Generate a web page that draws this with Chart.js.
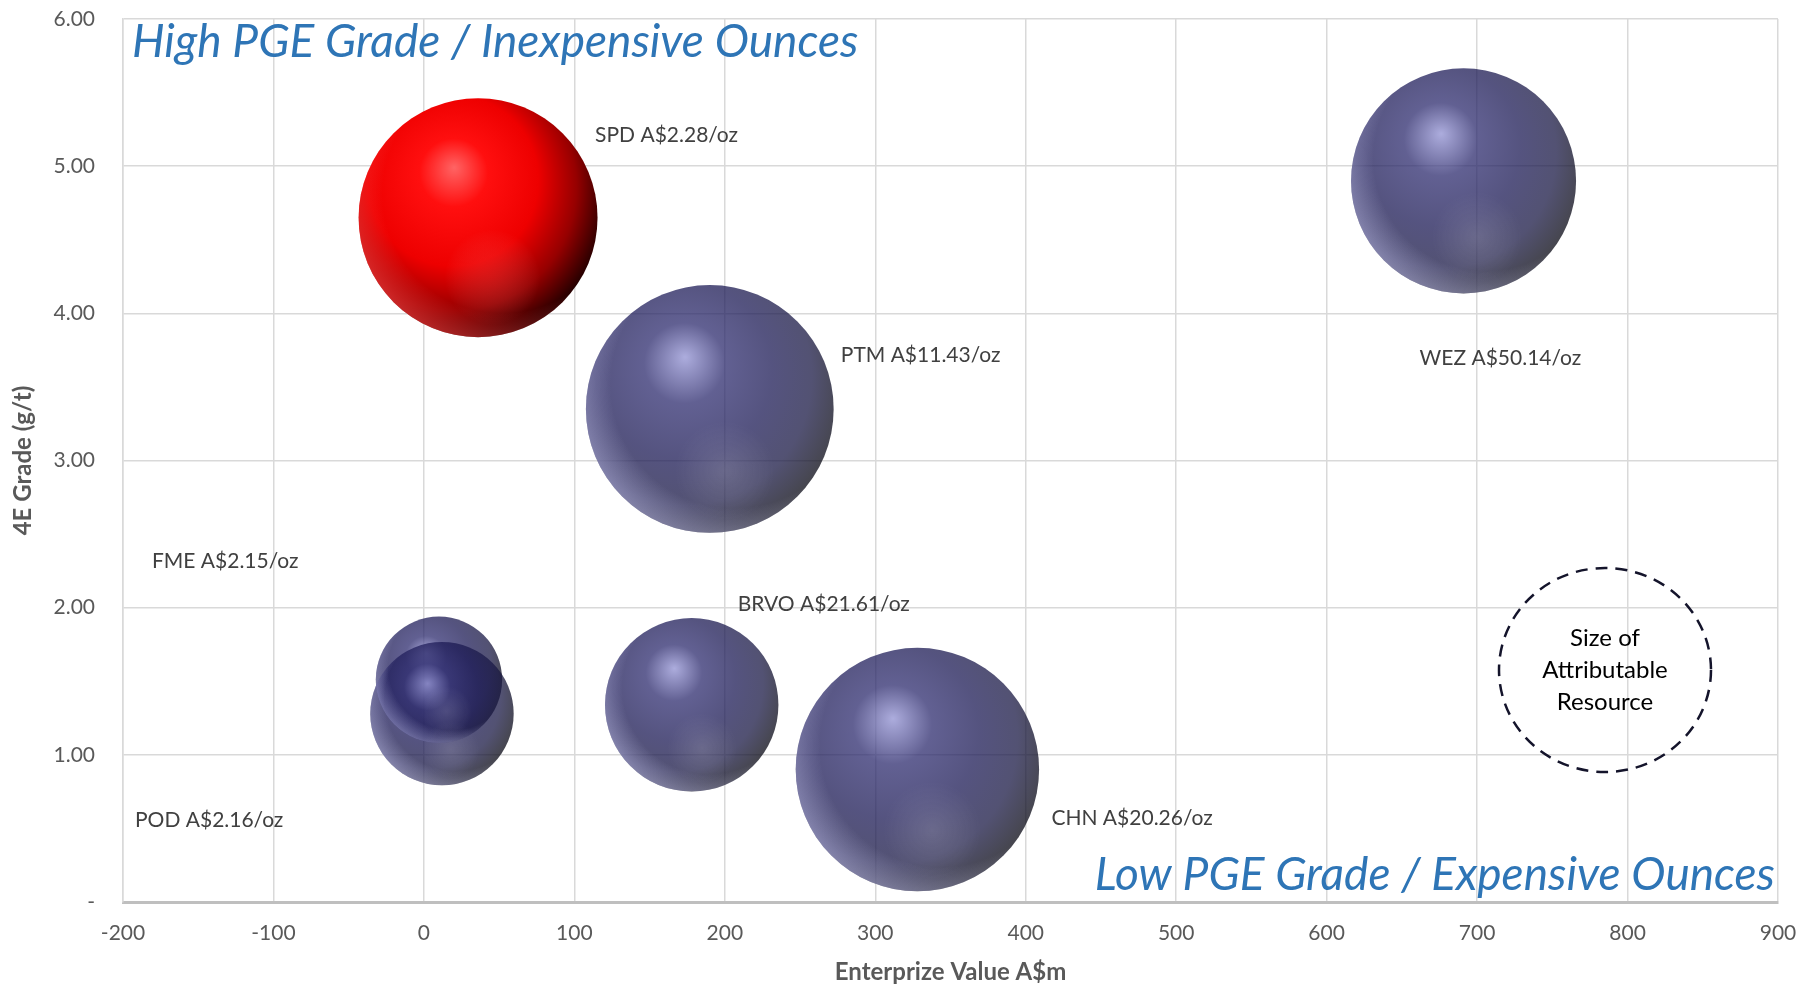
<!DOCTYPE html>
<html>
<head>
<meta charset="utf-8">
<script src="https://cdn.jsdelivr.net/npm/chart.js@4.4.1/dist/chart.umd.min.js"></script>
<style>
  html, body { margin: 0; padding: 0; background: #fff; }
</style>
</head>
<body>
<canvas id="myChart" width="1800" height="985"></canvas>
<script>
// company data
const companies = ['SPD', 'PTM', 'WEZ', 'FME', 'BRVO', 'POD', 'CHN'];
const costPerOz = [2.28, 11.43, 50.14, 2.15, 21.61, 2.16, 20.26];
const enterpriseValue = [36, 190, 691, 10, 178, 12, 328];   // A$m
const grade = [4.65, 3.35, 4.90, 1.51, 1.34, 1.28, 0.90];  // 4E g/t
const resource = [18.6, 20.0, 16.5, 5.2, 9.8, 6.7, 19.3];  // attributable resource (Moz, estimated)
const highlight = 'SPD';

const FONT = 'Lato, "Open Sans", sans-serif';

// label offsets from bubble centre (px)
const labelOffsets = {
  SPD: [117, -82], PTM: [131, -54], WEZ: [-44, 177], FME: [-287, -119],
  BRVO: [46, -101], POD: [-307, 107], CHN: [134, 49]
};

const points = companies.map((c, i) => ({
  x: enterpriseValue[i],
  y: grade[i],
  r: 27.7 * Math.sqrt(resource[i])
}));

function sphereFill(context) {
  const chart = context.chart;
  const raw = context.raw;
  const isRed = companies[context.dataIndex] === highlight;
  const flat = isRed ? 'rgb(230,0,0)' : 'rgba(28,26,85,0.75)';
  if (!raw || !chart.scales || !chart.scales.x || !chart.scales.y) return flat;
  const cx = chart.scales.x.getPixelForValue(raw.x);
  const cy = chart.scales.y.getPixelForValue(raw.y);
  const r = raw.r;
  if (!isFinite(cx) || !isFinite(cy) || !isFinite(r)) return flat;
  const g = chart.ctx.createRadialGradient(cx - 0.2 * r, cy - 0.42 * r, 0, cx - 0.22 * r, cy - 0.22 * r, 1.3 * r);
  if (isRed) {
    g.addColorStop(0, 'rgb(255,100,100)');
    g.addColorStop(0.22, 'rgb(255,15,15)');
    g.addColorStop(0.55, 'rgb(238,0,0)');
    g.addColorStop(0.8, 'rgb(150,0,0)');
    g.addColorStop(1, 'rgb(40,0,0)');
  } else {
    g.addColorStop(0, 'rgba(145,145,210,0.75)');
    g.addColorStop(0.25, 'rgba(45,43,110,0.75)');
    g.addColorStop(0.55, 'rgba(28,26,85,0.75)');
    g.addColorStop(0.8, 'rgba(25,24,68,0.75)');
    g.addColorStop(1, 'rgba(8,8,20,0.75)');
  }
  return g;
}

const overlayPlugin = {
  id: 'overlay',
  afterDatasetsDraw(chart) {
    const ctx = chart.ctx;
    const area = chart.chartArea;
    const meta = chart.getDatasetMeta(0);
    ctx.save();
    // sphere rim light and soft reflection
    meta.data.forEach((el, i) => {
      const r = el.options.radius;
      const isRed = companies[i] === highlight;
      ctx.save();
      ctx.beginPath();
      ctx.arc(el.x, el.y, r, 0, Math.PI * 2);
      ctx.clip();
      const rim = ctx.createRadialGradient(el.x + 0.2 * r, el.y - 0.2 * r, r, el.x + 0.2 * r, el.y - 0.2 * r, 1.28 * r);
      rim.addColorStop(0, isRed ? 'rgba(255,70,70,0)' : 'rgba(190,190,240,0)');
      rim.addColorStop(1, isRed ? 'rgba(255,70,70,0.55)' : 'rgba(190,190,240,0.45)');
      ctx.fillStyle = rim;
      ctx.fillRect(el.x - r, el.y - r, 2 * r, 2 * r);
      const refl = ctx.createRadialGradient(el.x + 0.12 * r, el.y + 0.5 * r, 0, el.x + 0.12 * r, el.y + 0.5 * r, 0.4 * r);
      refl.addColorStop(0, isRed ? 'rgba(255,120,120,0.18)' : 'rgba(255,255,255,0.13)');
      refl.addColorStop(1, 'rgba(255,255,255,0)');
      ctx.fillStyle = refl;
      ctx.fillRect(el.x - r, el.y - r, 2 * r, 2 * r);
      ctx.restore();
    });
    // data labels
    ctx.font = '21px ' + FONT;
    ctx.fillStyle = '#404040';
    ctx.textAlign = 'left';
    ctx.textBaseline = 'middle';
    meta.data.forEach((el, i) => {
      const off = labelOffsets[companies[i]];
      ctx.fillText(companies[i] + ' A$' + costPerOz[i].toFixed(2) + '/oz', el.x + off[0], el.y + off[1]);
    });
    // quadrant captions
    ctx.font = 'italic 46px ' + FONT;
    ctx.fillStyle = '#2E75B6';
    ctx.textAlign = 'left';
    ctx.fillText('High PGE Grade / Inexpensive Ounces', area.left + 9, area.top + 23);
    ctx.textAlign = 'right';
    ctx.fillText('Low PGE Grade / Expensive Ounces', area.right - 3, area.bottom - 27);
    // size legend
    const lx = area.right - 173, ly = area.bottom - 232;
    ctx.beginPath();
    ctx.ellipse(lx, ly, 106, 102, 0, 0, Math.PI * 2);
    ctx.setLineDash([12, 8]);
    ctx.lineWidth = 2.5;
    ctx.strokeStyle = '#14142b';
    ctx.stroke();
    ctx.setLineDash([]);
    ctx.font = '24px ' + FONT;
    ctx.fillStyle = '#000';
    ctx.textAlign = 'center';
    ['Size of', 'Attributable', 'Resource'].forEach((t, k) => {
      ctx.fillText(t, lx, ly - 32 + k * 32);
    });
    ctx.restore();
  }
};

new Chart(document.getElementById('myChart'), {
  type: 'bubble',
  data: {
    datasets: [{
      label: 'Attributable Resource',
      data: points,
      backgroundColor: sphereFill,
      borderWidth: 0,
      hoverBorderWidth: 0
    }]
  },
  options: {
    responsive: false,
    animation: false,
    layout: { autoPadding: false, padding: { left: 0, right: 22, top: 19, bottom: 0 } },
    plugins: {
      legend: { display: false },
      tooltip: { enabled: false }
    },
    scales: {
      x: {
        type: 'linear',
        min: -200,
        max: 900,
        ticks: {
          stepSize: 100,
          padding: 19,
          color: '#595959',
          font: { family: FONT, size: 21 }
        },
        grid: { color: '#d9d9d9', lineWidth: 1.5, drawTicks: false },
        border: { color: '#bfbfbf', width: 3 },
        title: {
          display: true,
          text: 'Enterprize Value A$m',
          color: '#595959',
          font: { family: FONT, size: 24, weight: 'bold', lineHeight: 1 },
          padding: { top: 0, bottom: 1 }
        },
        afterFit(scale) {
          scale.height = 83;
          scale.paddingLeft = 0;
          scale.paddingRight = 0;
        }
      },
      y: {
        type: 'linear',
        min: 0,
        max: 6,
        ticks: {
          stepSize: 1,
          padding: 28,
          color: '#595959',
          font: { family: FONT, size: 21 },
          callback: v => v === 0 ? '-' : v.toFixed(2)
        },
        grid: { color: '#d9d9d9', lineWidth: 1.5, drawTicks: false },
        border: { color: '#d9d9d9', width: 1.5 },
        title: {
          display: true,
          text: '4E Grade (g/t)',
          color: '#595959',
          font: { family: FONT, size: 24, weight: 'bold', lineHeight: 1 },
          padding: { top: 11, bottom: 0 }
        },
        afterFit(scale) {
          scale.width = 123;
          scale.paddingTop = 0;
          scale.paddingBottom = 0;
        }
      }
    }
  },
  plugins: [overlayPlugin]
});
</script>
</body>
</html>
